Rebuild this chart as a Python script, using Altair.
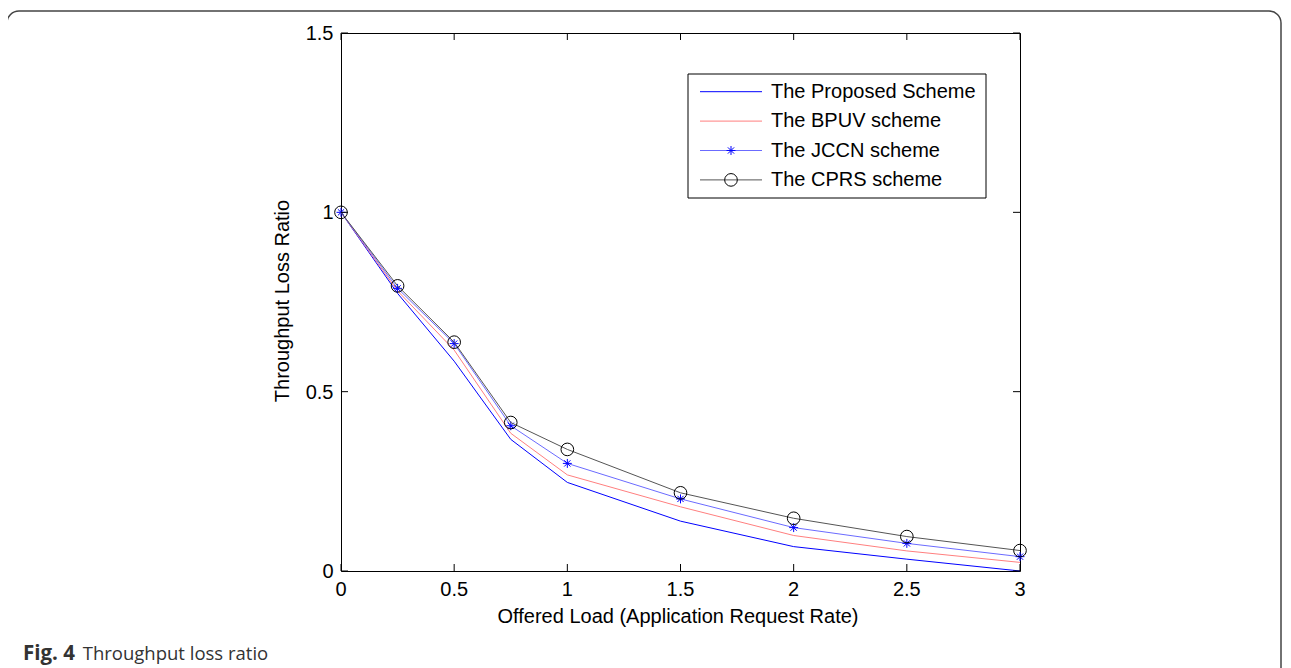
import altair as alt
import pandas as pd

# ---- data ----
load = [0, 0.25, 0.5, 0.75, 1, 1.5, 2, 2.5, 3]
proposed = [1.0, 0.774, 0.585, 0.367, 0.247, 0.139, 0.068, 0.033, 0.0]
bpuv = [1.0, 0.781, 0.616, 0.384, 0.268, 0.179, 0.099, 0.056, 0.024]
jccn = [1.0, 0.788, 0.634, 0.405, 0.300, 0.201, 0.121, 0.077, 0.040]
cprs = [1.0, 0.795, 0.638, 0.414, 0.339, 0.218, 0.147, 0.096, 0.057]

series_names = ["The Proposed Scheme", "The BPUV scheme", "The JCCN scheme", "The CPRS scheme"]
x_ticks = [0, 0.5, 1, 1.5, 2, 2.5, 3]
y_ticks = [0, 0.5, 1, 1.5]
x_title = "Offered Load (Application Request Rate)"
y_title = "Throughput Loss Ratio"
caption_bold = "Fig. 4"
caption_text = "Throughput loss ratio"

# ---- styles ----
W, H = 679, 538
TOTAL_W, TOTAL_H = 1275, 660
FONT = "Liberation Sans"
FS = 20
colors = ["#0000ff", "#ff7f7f", "#6b6bff", "#555555"]
STAR = "M-1,0L1,0M0,-1L0,1M-0.7,-0.7L0.7,0.7M-0.7,0.7L0.7,-0.7"

xs = alt.Scale(domain=[0, 3], nice=False, zero=False)
ys = alt.Scale(domain=[0, 1.5], nice=False, zero=False)

rows = []
for name, vals in zip(series_names, [proposed, bpuv, jccn, cprs]):
    for xv, yv in zip(load, vals):
        rows.append({"load": xv, "ratio": yv, "series": name})
df = pd.DataFrame(rows)

X = alt.X("load:Q", scale=xs, axis=None)
Y = alt.Y("ratio:Q", scale=ys, axis=None)

layers = []
one = pd.DataFrame({"a": [0]})
# frame around the figure
layers.append(alt.Chart(one).mark_rect(fill="white", fillOpacity=0, stroke="#444444", strokeWidth=1.5, cornerRadius=12).encode(
    x=alt.value(-334), x2=alt.value(TOTAL_W - 333 - 2), y=alt.value(-22), y2=alt.value(700)))

for i, name in enumerate(series_names):
    sub = df[df.series == name]
    layers.append(alt.Chart(sub).mark_line(color=colors[i], strokeWidth=1).encode(x=X, y=Y))
    if i == 2:
        layers.append(alt.Chart(sub).mark_point(shape=STAR, size=80, color="#0000ff", strokeWidth=1, opacity=1).encode(x=X, y=Y))
    if i == 3:
        layers.append(alt.Chart(sub).mark_point(shape="circle", size=160, color="black", strokeWidth=1, opacity=1, filled=False).encode(x=X, y=Y))

# inward ticks on all four sides
xt = pd.DataFrame({"v": x_ticks})
yt = pd.DataFrame({"v": y_ticks})
XT = alt.X("v:Q", scale=xs, axis=None)
YT = alt.Y("v:Q", scale=ys, axis=None)
layers.append(alt.Chart(xt).mark_rule(color="black", strokeWidth=1).encode(x=XT, y=alt.value(H), y2=alt.value(H - 7)))
layers.append(alt.Chart(xt).mark_rule(color="black", strokeWidth=1).encode(x=XT, y=alt.value(0), y2=alt.value(7)))
layers.append(alt.Chart(yt).mark_rule(color="black", strokeWidth=1).encode(y=YT, x=alt.value(0), x2=alt.value(7)))
layers.append(alt.Chart(yt).mark_rule(color="black", strokeWidth=1).encode(y=YT, x=alt.value(W), x2=alt.value(W - 7)))

# tick labels
layers.append(alt.Chart(xt).mark_text(font=FONT, fontSize=FS, align="center", baseline="alphabetic", color="black").encode(
    x=XT, y=alt.value(H + 25), text=alt.Text("v:Q", format="~g")))
layers.append(alt.Chart(yt).mark_text(font=FONT, fontSize=FS, align="right", baseline="middle", dy=1, color="black").encode(
    y=YT, x=alt.value(-7.5), text=alt.Text("v:Q", format="~g")))

# axis titles
tdf = pd.DataFrame({"xt": [x_title], "yt": [y_title]})
layers.append(alt.Chart(tdf).mark_text(font=FONT, fontSize=FS, align="center", baseline="alphabetic", color="black").encode(
    x=alt.value(337), y=alt.value(590.3), text="xt:N"))
layers.append(alt.Chart(tdf).mark_text(font=FONT, fontSize=FS, align="center", baseline="alphabetic", angle=270, color="black").encode(
    x=alt.value(-51.7), y=alt.value(268), text="yt:N"))

# legend box
layers.append(alt.Chart(one).mark_rect(fill="white", stroke="black", strokeWidth=1).encode(
    x=alt.value(347), x2=alt.value(645), y=alt.value(41), y2=alt.value(165)))
for i, name in enumerate(series_names):
    ly = 58.7 + i * 29.4
    ldf = pd.DataFrame({"name": [name]})
    layers.append(alt.Chart(ldf).mark_rule(color=colors[i], strokeWidth=1).encode(
        x=alt.value(359), x2=alt.value(421), y=alt.value(ly)))
    if i == 2:
        layers.append(alt.Chart(ldf).mark_point(shape=STAR, size=80, color="#0000ff", strokeWidth=1, opacity=1).encode(
            x=alt.value(390), y=alt.value(ly)))
    if i == 3:
        layers.append(alt.Chart(ldf).mark_point(shape="circle", size=160, color="black", strokeWidth=1, opacity=1, filled=False).encode(
            x=alt.value(390), y=alt.value(ly)))
    layers.append(alt.Chart(ldf).mark_text(font=FONT, fontSize=FS, align="left", baseline="middle", color="black").encode(
        x=alt.value(430), y=alt.value(ly), text="name:N"))

# caption
cap = pd.DataFrame({"b": [caption_bold], "t": [caption_text]})
layers.append(alt.Chart(cap).mark_text(font="Open Sans", fontSize=20.5, fontWeight="bold", align="left", baseline="alphabetic", color="#333333").encode(
    x=alt.value(-318), y=alt.value(627), text="b:N"))
layers.append(alt.Chart(cap).mark_text(font="Open Sans", fontSize=18.5, align="left", baseline="alphabetic", color="#333333").encode(
    x=alt.value(-258.3), y=alt.value(627), text="t:N"))

chart = alt.layer(*layers).properties(
    width=W, height=H,
    autosize=alt.AutoSizeParams(type="none"),
    padding={"left": 333, "top": 25, "right": TOTAL_W - 333 - W, "bottom": TOTAL_H - 25 - H},
).configure_view(stroke="black", strokeWidth=1)

chart.save("out.html", embed_options={"renderer": "svg", "actions": False})
